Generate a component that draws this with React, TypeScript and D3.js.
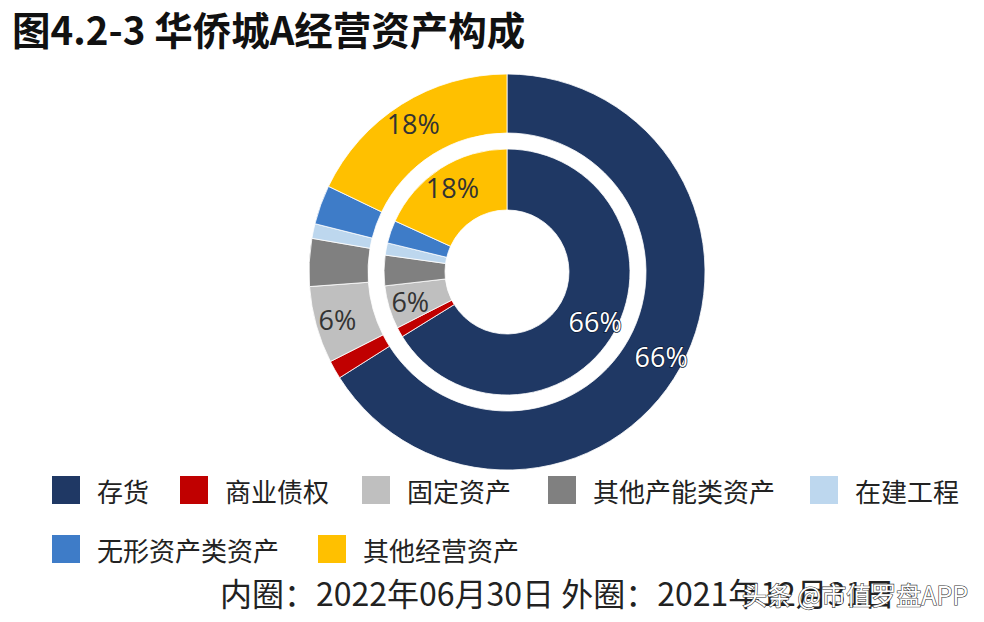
import * as d3 from "d3";
import { useEffect, useRef } from "react";

const categories = ["存货", "商业债权", "固定资产", "其他产能类资产", "在建工程", "无形资产类资产", "其他经营资产"];
const colors = ["#1F3864", "#C00000", "#BFBFBF", "#808080", "#BDD7EE", "#3E7CC8", "#FFC000"];
// 内圈：2022-06-30，外圈：2021-12-31（%）
const innerValues = [66.2, 1.3, 5.7, 4.0, 1.6, 3.0, 18.2];
const outerValues = [66.1, 1.5, 6.3, 3.9, 1.2, 3.2, 17.9];

const title = "图4.2-3 华侨城A经营资产构成";
const note = "内圈：2022年06月30日 外圈：2021年12月31日";
const watermark = "头条 @市值罗盘APP";

const W = 984;
const H = 622;
const cx = 507;
const cy = 272;
const FONT = "'Noto Sans CJK SC', 'Noto Sans', sans-serif";

export default function App() {
  const ref = useRef<SVGSVGElement>(null);

  useEffect(() => {
    if (!ref.current) return;
    const svg = d3.select(ref.current);
    svg.selectAll("*").remove();

    svg.append("rect").attr("width", W).attr("height", H).attr("fill", "#fff");

    svg
      .append("text")
      .attr("x", 12)
      .attr("y", 45)
      .attr("font-family", FONT)
      .attr("font-size", 38.5)
      .attr("font-weight", 700)
      .attr("fill", "#111")
      .text(title);

    const pie = d3
      .pie<number>()
      .sort(null)
      .value((d) => d);

    const g = svg.append("g").attr("transform", `translate(${cx},${cy})`);

    const rings = [
      { values: outerValues, inner: 139, outer: 198, labelR: 176 },
      { values: innerValues, inner: 62, outer: 123, labelR: 101 },
    ];

    rings.forEach((ring) => {
      const arc = d3.arc<d3.PieArcDatum<number>>().innerRadius(ring.inner).outerRadius(ring.outer);
      const labelArc = d3.arc<d3.PieArcDatum<number>>().innerRadius(ring.labelR).outerRadius(ring.labelR);
      const arcs = pie(ring.values);

      g.append("g")
        .selectAll("path")
        .data(arcs)
        .enter()
        .append("path")
        .attr("d", arc)
        .attr("fill", (_, i) => colors[i])
        .attr("stroke", "#fff")
        .attr("stroke-width", 0.8);

      g.append("g")
        .selectAll("text")
        .data(arcs.filter((d) => d.data >= 5))
        .enter()
        .append("text")
        .attr("transform", (d) => `translate(${labelArc.centroid(d)})`)
        .attr("text-anchor", "middle")
        .attr("dominant-baseline", "central")
        .attr("font-family", "'Open Sans', 'Noto Sans', sans-serif")
        .attr("font-size", 27)
        .attr("fill", (d) => (d.index === 0 ? "#fff" : "#333"))
        .attr("stroke", (d) => (d.index === 0 ? "#0d1a33" : "none"))
        .attr("stroke-width", 1.5)
        .attr("paint-order", "stroke")
        .text((d) => `${Math.round(d.data)}%`);
    });

    // 图例
    const legendPos = [
      [52, 490],
      [180, 490],
      [362, 490],
      [548, 490],
      [810, 490],
      [52, 549],
      [318, 549],
    ];
    const legend = svg.append("g");
    categories.forEach((c, i) => {
      const [lx, ly] = legendPos[i];
      legend
        .append("rect")
        .attr("x", lx)
        .attr("y", ly - 14)
        .attr("width", 28)
        .attr("height", 28)
        .attr("fill", colors[i]);
      legend
        .append("text")
        .attr("x", lx + 45)
        .attr("y", ly)
        .attr("dominant-baseline", "central")
        .attr("font-family", FONT)
        .attr("font-size", 26)
        .attr("fill", "#222")
        .text(c);
    });

    svg
      .append("text")
      .attr("x", 220)
      .attr("y", 606)
      .attr("font-family", FONT)
      .attr("font-size", 32)
      .attr("fill", "#222")
      .text(note);

    svg
      .append("text")
      .attr("x", 742)
      .attr("y", 605)
      .attr("font-family", FONT)
      .attr("font-size", 25)
      .attr("fill", "#fff")
      .attr("stroke", "#333")
      .attr("stroke-width", 1.2)
      .attr("paint-order", "stroke")
      .text(watermark);
  }, []);

  return (
    <div style={{ position: "absolute", left: 0, top: 0 }}>
      <svg ref={ref} width={W} height={H}></svg>
    </div>
  );
}
